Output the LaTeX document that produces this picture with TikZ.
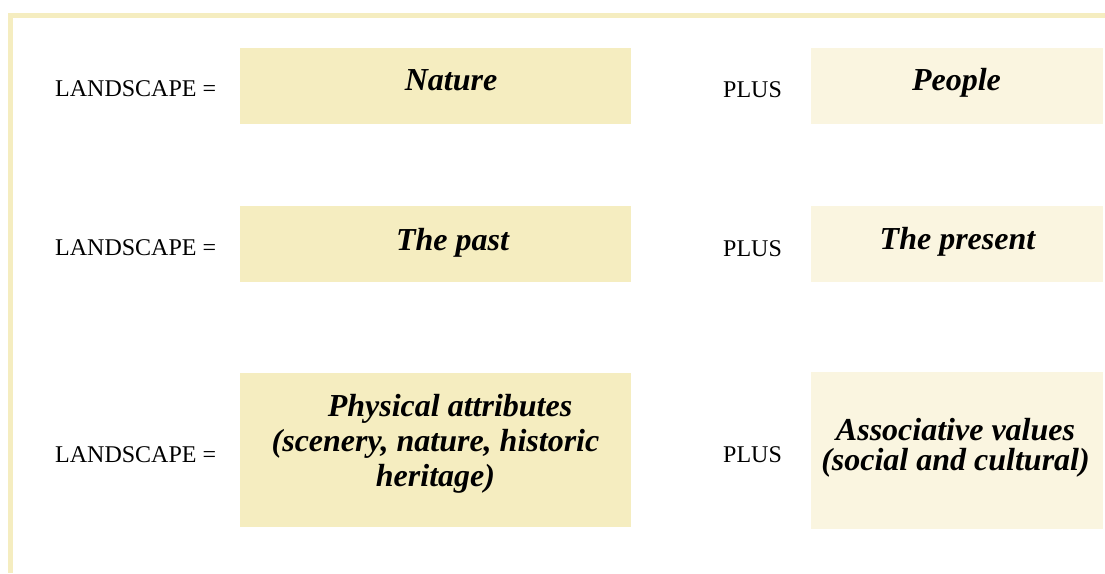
\documentclass[tikz,border=0pt]{standalone}
\usepackage{fontspec}
\setmainfont{Liberation Serif}
\definecolor{boxA}{RGB}{245,237,192}
\definecolor{boxB}{RGB}{250,245,224}
\begin{document}
\begin{tikzpicture}[x=1pt,y=-1pt,
  lbl/.style={anchor=base west, inner sep=0pt, font=\fontsize{24}{28}\selectfont},
  lbox/.style={fill=boxA, inner sep=0pt, anchor=north west, minimum width=391pt},
  rbox/.style={fill=boxB, inner sep=0pt, anchor=north west, minimum width=292pt},
  btxt/.style={anchor=base, inner sep=0pt, align=center, font=\fontsize{32}{35}\selectfont\bfseries\itshape},
  rtxt/.style={btxt, font=\fontsize{32}{30}\selectfont\bfseries\itshape}
]
\useasboundingbox (0,0) rectangle (1105,573);
% frame
\fill[boxA] (8,13) rectangle (1105,18);
\fill[boxA] (8,13) rectangle (13,573);
% boxes
\node[lbox, minimum height=76pt] (n1) at (240,48) {};
\node[rbox, minimum height=76pt] (p1) at (811,48) {};
\node[lbox, minimum height=76pt] (n2) at (240,206) {};
\node[rbox, minimum height=76pt] (p2) at (811,206) {};
\node[lbox, minimum height=154pt] (n3) at (240,373) {};
\node[rbox, minimum height=157pt] (p3) at (811,372) {};
% labels
\node[lbl] (l1) at (55,96.7) {LANDSCAPE =};
\node[lbl] (s1) at (723,97.3) {PLUS};
\node[lbl] (l2) at (55,255.7) {LANDSCAPE =};
\node[lbl] (s2) at (723,256.7) {PLUS};
\node[lbl] (l3) at (55,462) {LANDSCAPE =};
\node[lbl] (s3) at (723,462) {PLUS};
% box texts
\node[btxt] (t1) at (451,90.7) {Nature};
\node[btxt] (u1) at (956.5,90.7) {People};
\node[btxt] (t2) at (452.5,250.7) {The past};
\node[btxt] (u2) at (957.5,249) {The present};
\node[btxt] (t3) at (435.5,486.7) {\hspace*{29pt}Physical attributes\\(scenery, nature, historic\\heritage)};
\node[rtxt] (u3) at (955.5,470) {Associative values\\(social and cultural)};
\end{tikzpicture}
\end{document}
